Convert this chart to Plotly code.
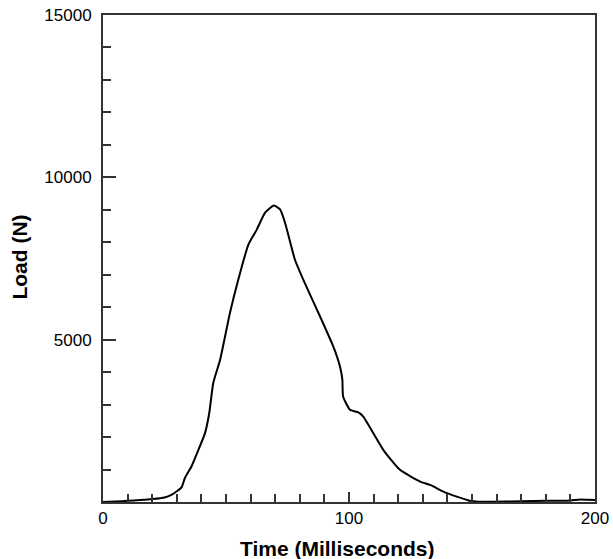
import plotly.graph_objects as go

time_ms = [0, 5, 10, 15, 20, 25, 28, 30, 32, 33.3, 36, 38.5, 41.5, 43.2, 44.8, 47.6,
           51.6, 55, 59.1, 62.5, 65.9, 69.5, 72, 74, 78, 81.4, 88.2, 93.6, 96.3,
           97.3, 97.6, 100.4, 103.8, 105.8, 114, 120.7, 128.9, 133, 138.3, 143.8,
           149, 155, 165, 175, 185, 190, 194, 197, 200]
load_n = [0, 15, 35, 60, 90, 140, 230, 330, 460, 740, 1100, 1550, 2130, 2740, 3660, 4380,
          5820, 6850, 7930, 8390, 8910, 9130, 9010, 8600, 7470, 6850, 5720, 4790, 4180,
          3770, 3250, 2840, 2760, 2630, 1600, 990, 630, 525, 320, 165,
          40, 5, 15, 30, 40, 50, 80, 70, 60]

x_ticks = [0, 100, 200]
x_labels = ["0", "100", "200"]
y_ticks = [5000, 10000, 15000]
y_labels = ["5000", "10000", "15000"]
x_title = "Time (Milliseconds)"
y_title = "Load (N)"

fig = go.Figure()
fig.add_trace(go.Scatter(
    x=time_ms, y=load_n, mode="lines",
    line=dict(color="black", width=2, shape="spline", smoothing=0.5),
    showlegend=False, hoverinfo="skip",
))

axis_font = dict(family="Liberation Sans, Arial, sans-serif", size=17, color="black")
title_font = dict(family="Liberation Sans, Arial, sans-serif", size=21, color="black")

fig.update_xaxes(
    range=[0, 200], tickmode="array", tickvals=x_ticks, ticktext=x_labels,
    ticks="inside", ticklen=10, tickwidth=1.5, tickcolor="#333",
    minor=dict(dtick=10, tick0=0, ticks="inside", ticklen=8, tickwidth=1.5, tickcolor="#333", showgrid=False),
    showline=True, linecolor="#333", linewidth=2, mirror=True,
    showgrid=False, zeroline=False, tickfont=axis_font, automargin=False,
)
fig.update_yaxes(
    range=[0, 15000], tickmode="array", tickvals=y_ticks, ticktext=y_labels,
    ticks="inside", ticklen=13, tickwidth=1.5, tickcolor="#333",
    minor=dict(dtick=1000, tick0=0, ticks="inside", ticklen=8, tickwidth=1.5, tickcolor="#333", showgrid=False),
    showline=True, linecolor="#333", linewidth=2, mirror=True,
    showgrid=False, zeroline=False, tickfont=axis_font, automargin=False,
    ticklabelstandoff=6,
)

fig.add_annotation(
    text="<b>" + x_title + "</b>", xref="paper", yref="paper",
    x=0.4766, y=-0.0965, xanchor="center", yanchor="middle",
    showarrow=False, font=title_font,
)
fig.add_annotation(
    text="<b>" + y_title + "</b>", xref="paper", yref="paper",
    x=-0.1687, y=0.504, xanchor="center", yanchor="middle",
    showarrow=False, font=title_font, textangle=-90,
)

fig.update_layout(
    width=613, height=559,
    margin=dict(l=103, r=18, t=15, b=57),
    paper_bgcolor="white", plot_bgcolor="white",
)

fig.write_html("out.html")
